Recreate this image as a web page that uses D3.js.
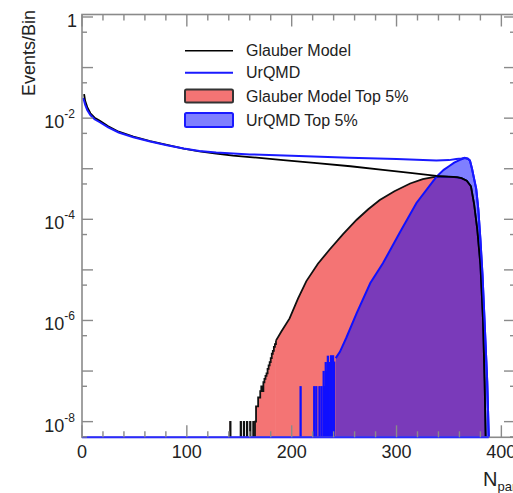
<!DOCTYPE html>
<html>
<head>
<meta charset="utf-8">
<script src="https://cdn.jsdelivr.net/npm/d3@7"></script>
<style>
html, body { margin: 0; padding: 0; background: #fff; overflow: hidden; }
</style>
</head>
<body>
<div id="canvas"></div>
<script>
// ---- data ----
const glauberNpart = [2, 3, 5, 8, 12, 17, 25, 35, 49, 65, 81, 97, 112, 128, 144, 160, 192, 224, 256, 287, 313, 338, 350, 358, 362, 367, 371, 374, 377, 380, 382.5, 384, 385];
const glauberEvents = [3.0e-2, 2.2e-2, 1.65e-2, 1.25e-2, 1.02e-2, 8.9e-3, 6.9e-3, 5.4e-3, 4.3e-3, 3.5e-3, 2.95e-3, 2.5e-3, 2.2e-3, 2.0e-3, 1.82e-3, 1.70e-3, 1.48e-3, 1.29e-3, 1.12e-3, 9.5e-4, 8.3e-4, 7.2e-4, 7.0e-4, 6.85e-4, 6.5e-4, 5.8e-4, 4.5e-4, 2.0e-4, 6.3e-5, 1.26e-5, 1.0e-6, 6.3e-8, 0];

const urqmdNpart = [1, 2, 3, 5, 8, 12, 17, 25, 35, 49, 65, 81, 97, 112, 128, 144, 160, 200, 255, 300, 338, 350, 357, 362, 365, 368, 370, 372, 374, 376, 378, 380, 382, 383.5, 385, 386.5, 388];
const urqmdEvents = [2.5e-2, 2.2e-2, 1.85e-2, 1.45e-2, 1.15e-2, 9.5e-3, 8.3e-3, 6.6e-3, 5.2e-3, 4.2e-3, 3.45e-3, 2.9e-3, 2.5e-3, 2.25e-3, 2.1e-3, 2.0e-3, 1.92e-3, 1.8e-3, 1.65e-3, 1.55e-3, 1.45e-3, 1.48e-3, 1.55e-3, 1.6e-3, 1.64e-3, 1.58e-3, 1.45e-3, 1.0e-3, 6.3e-4, 4.0e-4, 1.6e-4, 4.0e-5, 7.9e-6, 1.6e-6, 3.2e-7, 6.3e-8, 0];

// Glauber top 5%: isolated single-event bins, a low-count staircase, then the smooth part
const glauberSpikeBins = [141, 151, 154, 157, 160, 163];
const glauberSpikeEvents = [1e-8, 1e-8, 1e-8, 1e-8, 1e-8, 1e-8];
const glauberStepBins = [165, 166, 167, 168, 169, 170, 171, 172, 173, 174, 175, 176, 177, 178, 179, 180, 181, 182, 183, 184];
const glauberStepEvents = [1e-8, 2e-8, 2e-8, 3e-8, 3e-8, 4e-8, 5e-8, 4e-8, 6e-8, 7e-8, 8e-8, 9e-8, 1.1e-7, 1.3e-7, 1.5e-7, 1.8e-7, 2.2e-7, 2.5e-7, 3.0e-7, 3.4e-7];
const glauberTopNpart = [185, 190, 198, 206, 214, 225, 236, 249, 262, 273, 284, 298, 313, 325, 335, 345, 355, 362, 367, 371, 374, 377, 380, 382.5, 384, 385];
const glauberTopEvents = [4.0e-7, 6.0e-7, 1.1e-6, 2.7e-6, 6.0e-6, 1.32e-5, 2.5e-5, 5.1e-5, 9.8e-5, 1.58e-4, 2.4e-4, 3.6e-4, 5.1e-4, 6.2e-4, 6.8e-4, 7.0e-4, 6.85e-4, 6.5e-4, 5.8e-4, 4.5e-4, 2.0e-4, 6.3e-5, 1.26e-5, 1.0e-6, 6.3e-8, 0];

// UrQMD top 5%
const urqmdSpikeBins = [208, 221, 223, 226, 228, 230, 231, 232, 233, 234, 235, 236, 237, 238, 239, 240];
const urqmdSpikeEvents = [4.9e-8, 4.9e-8, 4.9e-8, 4.9e-8, 4.9e-8, 9.8e-8, 4.9e-8, 1.47e-7, 9.8e-8, 1.96e-7, 9.8e-8, 1.47e-7, 2.0e-7, 1.47e-7, 2.0e-7, 1.5e-7];
const urqmdTopNpart = [242, 246, 252, 262, 275, 287, 303, 319, 330, 338, 345, 350, 355, 360, 365, 368, 370, 372, 374, 376, 378, 380, 382, 383.5, 385, 386.5, 388];
const urqmdTopEvents = [1.8e-7, 2.4e-7, 4.5e-7, 1.4e-6, 5.5e-6, 1.35e-5, 5.4e-5, 2.1e-4, 4.2e-4, 6.9e-4, 9.5e-4, 1.12e-3, 1.32e-3, 1.48e-3, 1.62e-3, 1.58e-3, 1.45e-3, 1.0e-3, 6.3e-4, 4.0e-4, 1.6e-4, 4.0e-5, 7.9e-6, 1.6e-6, 3.2e-7, 6.3e-8, 0];

const xTicks = [0, 100, 200, 300, 400];
const yTickExps = [0, -2, -4, -6, -8];
const legendLabels = ['Glauber Model', 'UrQMD', 'Glauber Model Top 5%', 'UrQMD Top 5%'];

// ---- layout ----
const w = 513, h = 493,
    fl = 82, fr = 515, ft = 14.5, fb = 437.3,
    frameCol = '#8a8a8a',
    redFill = '#f47474',
    blueFill = 'rgba(0,0,255,0.5)',
    font = 'Liberation Sans, Arial, Helvetica, sans-serif';

const svg = d3.select('#canvas').append('svg')
    .attr('width', w)
    .attr('height', h);

const x = d3.scaleLinear().domain([0, 413]).range([fl, fr]);
const y = d3.scaleLog().domain([4.9e-9, 1.12]).range([fb, ft]).clamp(true);
const yv = v => v > 0 ? y(v) : fb;

svg.append('clipPath').attr('id', 'clip')
    .append('rect').attr('x', fl).attr('y', ft).attr('width', fr - fl).attr('height', fb - ft);
const g = svg.append('g').attr('clip-path', 'url(#clip)');

const pts = (xs, ys) => xs.map((d, i) => [d, ys[i]]);
const line = d3.line().x(d => x(d[0])).y(d => yv(d[1]));
const area = d3.area().x(d => x(d[0])).y0(fb).y1(d => yv(d[1]));
const stepLine = d3.line().x(d => x(d[0])).y(d => yv(d[1])).curve(d3.curveStepAfter);
const stepArea = d3.area().x(d => x(d[0])).y0(fb).y1(d => yv(d[1])).curve(d3.curveStepAfter);

function spikes(xs, ys, fill, stroke) {
    g.append('g').selectAll('rect')
        .data(pts(xs, ys))
        .join('rect')
        .attr('x', d => x(d[0]))
        .attr('width', d => x(d[0] + 1) - x(d[0]))
        .attr('y', d => yv(d[1]))
        .attr('height', d => fb - yv(d[1]))
        .attr('fill', fill)
        .attr('stroke', stroke)
        .attr('stroke-width', 1.2);
}

// Glauber top 5%
spikes(glauberSpikeBins, glauberSpikeEvents, redFill, '#111');
const gSteps = pts(glauberStepBins, glauberStepEvents)
    .concat([[glauberTopNpart[0], glauberTopEvents[0]]]);
const gStepOutline = [[glauberStepBins[0], 0]].concat(gSteps);
g.append('path').attr('d', stepArea(gSteps)).attr('fill', redFill);
g.append('path').attr('d', area(pts(glauberTopNpart, glauberTopEvents)))
    .attr('fill', redFill);
g.append('path').attr('d', stepLine(gStepOutline))
    .attr('fill', 'none').attr('stroke', '#111').attr('stroke-width', 1.8);
g.append('path').attr('d', line(pts(glauberTopNpart, glauberTopEvents)))
    .attr('fill', 'none').attr('stroke', '#111').attr('stroke-width', 1.8);

// UrQMD top 5%
spikes(urqmdSpikeBins, urqmdSpikeEvents, blueFill, '#1010ff');
g.append('path').attr('d', area(pts(urqmdTopNpart, urqmdTopEvents)))
    .attr('fill', blueFill);
g.append('path').attr('d', line(pts(urqmdTopNpart, urqmdTopEvents)))
    .attr('fill', 'none').attr('stroke', '#1010ff').attr('stroke-width', 2);

// totals
g.append('path').attr('d', line(pts(glauberNpart, glauberEvents)))
    .attr('fill', 'none').attr('stroke', '#000').attr('stroke-width', 1.8);
g.append('path').attr('d', line(pts(urqmdNpart, urqmdEvents)))
    .attr('fill', 'none').attr('stroke', '#1a1aff').attr('stroke-width', 2);

// ---- frame and ticks ----
svg.append('rect')
    .attr('x', fl).attr('y', ft)
    .attr('width', fr - fl).attr('height', fb - ft)
    .attr('fill', 'none').attr('stroke', frameCol).attr('stroke-width', 1.6);

// zero bins of the top-5% histograms run along the bottom
svg.append('line')
    .attr('x1', x(0)).attr('x2', x(urqmdTopNpart[urqmdTopNpart.length - 1]))
    .attr('y1', fb).attr('y2', fb)
    .attr('stroke', '#2a2aff').attr('stroke-width', 2);

const ticks = svg.append('g').attr('stroke', frameCol).attr('stroke-width', 1.4);
d3.range(0, 413, 20).forEach(v => {
    const len = v % 100 === 0 ? 12 : 6;
    ticks.append('line').attr('x1', x(v)).attr('x2', x(v)).attr('y1', fb).attr('y2', fb - len);
    ticks.append('line').attr('x1', x(v)).attr('x2', x(v)).attr('y1', ft).attr('y2', ft + len);
});
d3.range(0, -9, -1).forEach(e => {
    [[Math.pow(10, e), 11], [5 * Math.pow(10, e - 1), 5]].forEach(([v, len]) => {
        if (v < y.domain()[0] || v > y.domain()[1]) return;
        ticks.append('line').attr('x1', fl).attr('x2', fl + len).attr('y1', y(v)).attr('y2', y(v));
        ticks.append('line').attr('x1', fr).attr('x2', fr - len).attr('y1', y(v)).attr('y2', y(v));
    });
});

// tick labels
svg.append('g').selectAll('text')
    .data(xTicks)
    .join('text')
    .attr('x', d => x(d))
    .attr('y', 458)
    .attr('text-anchor', 'middle')
    .attr('font-family', font)
    .attr('font-size', '18px')
    .attr('fill', '#222')
    .text(d => d);

yTickExps.forEach(e => {
    const t = svg.append('text')
        .attr('x', e === 0 ? 77 : 75)
        .attr('y', y(Math.pow(10, e)) + 10)
        .attr('text-anchor', 'end')
        .attr('font-family', font)
        .attr('font-size', '18px')
        .attr('fill', '#222');
    if (e === 0) {
        t.text('1');
    } else {
        t.append('tspan').text('10');
        t.append('tspan').attr('dy', -10).attr('font-size', '12px').text(e);
    }
});

// axis titles
svg.append('text')
    .attr('transform', 'translate(34.5,10)rotate(-90)')
    .attr('text-anchor', 'end')
    .attr('font-family', font)
    .attr('font-size', '18px')
    .attr('fill', '#222')
    .text('Events/Bin');

const xt = svg.append('text')
    .attr('x', 483)
    .attr('y', 486)
    .attr('font-family', font)
    .attr('font-size', '20px')
    .attr('fill', '#222');
xt.append('tspan').text('N');
xt.append('tspan').attr('dy', 5).attr('font-size', '13px').text('part');

// ---- legend ----
const lg = svg.append('g');
const rowY = [50.7, 72.7, 96, 120];
lg.append('line').attr('x1', 185).attr('x2', 233).attr('y1', rowY[0]).attr('y2', rowY[0])
    .attr('stroke', '#000').attr('stroke-width', 1.6);
lg.append('line').attr('x1', 185).attr('x2', 233).attr('y1', rowY[1]).attr('y2', rowY[1])
    .attr('stroke', '#1a1aff').attr('stroke-width', 2);
lg.append('rect').attr('x', 185).attr('y', rowY[2] - 6.5).attr('width', 48).attr('height', 13)
    .attr('rx', 1.5).attr('fill', redFill).attr('stroke', '#333').attr('stroke-width', 2);
lg.append('rect').attr('x', 185).attr('y', rowY[3] - 7).attr('width', 48).attr('height', 14)
    .attr('rx', 1.5).attr('fill', blueFill).attr('stroke', '#1a1aff').attr('stroke-width', 2);
lg.selectAll('text.lab')
    .data(legendLabels)
    .join('text')
    .attr('x', 246)
    .attr('y', (d, i) => rowY[i] + 5.5)
    .attr('font-family', font)
    .attr('font-size', '16px')
    .attr('fill', '#222')
    .text(d => d);
</script>
</body>
</html>
